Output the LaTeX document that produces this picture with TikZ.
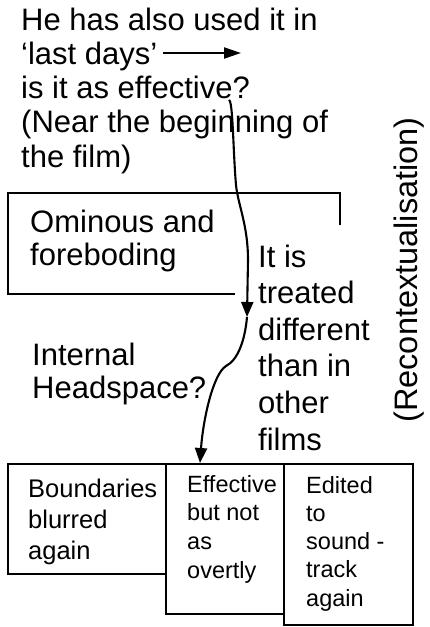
\documentclass[tikz,border=0pt]{standalone}
\usepackage{fontspec}
\setmainfont{Liberation Sans}
\usetikzlibrary{arrows.meta}
\begin{document}
\begin{tikzpicture}[x=1pt,y=-1pt,
  % multi-line texts are placed by the baseline of their last line
  txt/.style={inner sep=0pt, anchor=base west, align=left},
  big/.style={txt, font=\fontsize{31}{34.2}\selectfont},
  small/.style={txt, font=\fontsize{23.5}{28.6}\selectfont},
  frame/.style={line width=2.2pt},
  box/.style={draw, frame, inner sep=0pt, anchor=north west},
  link/.style={line width=2.1pt, -{Triangle[length=15pt,width=12pt]}}]
\useasboundingbox (0,0) rectangle (429,627);

% opening question
\node[big] (question) at (21,167)
  {He has also used it in\\‘last days’\\is it as effective?\\(Near the beginning of\\the film)};
\coordinate (lastA) at (163,53);
\coordinate (lastB) at (241,53);
\draw[link, -{Triangle[length=17pt,width=11pt]}] (lastA) -- (lastB);

% open frame round "Ominous and foreboding"
\draw[frame] (340,225) -- (340,193) -- (8,193) -- (8,294) -- (235,294);
\node[big, font=\fontsize{31}{33}\selectfont] (ominous) at (30,265) {Ominous and\\foreboding};

\node[big, font=\fontsize{31}{36.6}\selectfont] (treated) at (258,450)
  {It is\\treated\\different\\than in\\other\\films};
\node[big, font=\fontsize{31}{33}\selectfont] (internal) at (32,398) {Internal\\Headspace?};

\node[inner sep=0pt, rotate=90, font=\fontsize{32.5}{36}\selectfont] (recon) at (409,270)
  {(Recontextualisation)};

% the three boxes at the bottom
\node[box, minimum width=158pt, minimum height=110pt] (left) at (7,463) {};
\node[box, minimum width=118pt, minimum height=150pt] (mid) at (165,463) {};
\node[box, minimum width=129pt, minimum height=161pt] (right) at (283,463) {};

\node[txt, font=\fontsize{25.5}{31}\selectfont] (bound) at (28,559) {Boundaries\\blurred\\again};
\node[small] (effect) at (187,578) {Effective\\but not\\as\\overtly};
\node[small, font=\fontsize{23.5}{28.2}\selectfont] (edited) at (306,606) {Edited\\to\\sound -\\track\\again};

% winding connector
\coordinate (start) at (229,100);
\coordinate (bend) at (247,317);
\draw[link] (start) .. controls (233,101) and (233,150) .. (236,185)
  .. controls (238,205) and (248,225) .. (248,260) -- (bend);
\draw[link] (bend) .. controls (245,340) and (238,360) .. (226,366)
  .. controls (213,374) and (203,420) .. ([xshift=35pt]mid.north west);
\end{tikzpicture}
\end{document}
